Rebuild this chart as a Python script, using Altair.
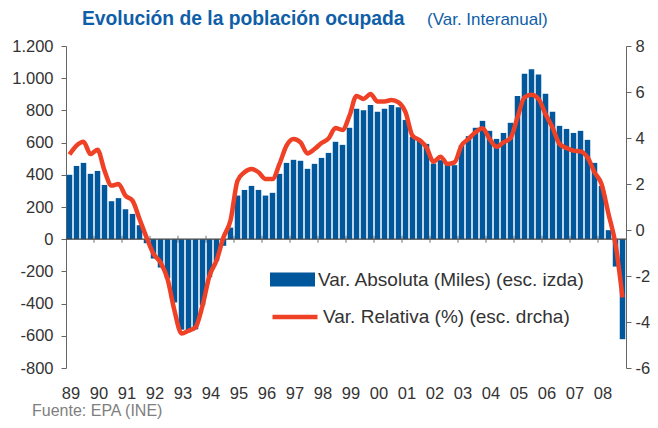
import altair as alt
import pandas as pd

FONT = "Liberation Sans"

years = [1989, 1990, 1991, 1992, 1993, 1994, 1995, 1996, 1997, 1998,
         1999, 2000, 2001, 2002, 2003, 2004, 2005, 2006, 2007, 2008]

# Variación absoluta interanual (miles de ocupados), por trimestre
var_abs = [
    400, 455, 474, 406,      # 1989
    424, 337, 236, 255,      # 1990
    186, 157, 87, -25,       # 1991
    -120, -176, -243, -393,  # 1992
    -562, -578, -560, -410,  # 1993
    -236, -135, -41, 72,     # 1994
    271, 306, 331, 306,      # 1995
    271, 288, 406, 474,      # 1996
    493, 487, 437, 468,      # 1997
    505, 536, 605, 586,      # 1998
    692, 810, 801, 834,      # 1999
    791, 810, 834, 820,      # 2000
    741, 636, 617, 592,      # 2001
    470, 491, 466, 460,      # 2002
    584, 640, 692, 735,      # 2003
    673, 623, 660, 723,      # 2004
    890, 1027, 1056, 1023,   # 2005
    903, 791, 704, 685,      # 2006
    660, 673, 617, 474,      # 2007
    331, 56, -170, -621,     # 2008
]

# Variación relativa interanual (%), por trimestre
var_rel = [
    3.28, 3.67, 3.84, 3.30,
    3.49, 2.58, 1.93, 2.00,
    1.49, 1.28, 0.48, -0.32,
    -1.04, -1.41, -2.13, -3.51,
    -4.50, -4.38, -4.23, -3.29,
    -1.99, -1.33, -0.32, 0.41,
    2.14, 2.51, 2.65, 2.51,
    2.22, 2.22, 2.87, 3.67,
    3.96, 3.81, 3.33, 3.52,
    3.78, 3.98, 4.43, 4.35,
    4.97, 5.83, 5.70, 5.91,
    5.59, 5.59, 5.65, 5.55,
    5.12, 4.10, 3.91, 3.59,
    2.97, 3.19, 2.87, 2.94,
    3.67, 3.96, 4.25, 4.42,
    3.96, 3.62, 3.81, 4.00,
    4.90, 5.77, 5.88, 5.70,
    5.04, 4.46, 3.74, 3.57,
    3.45, 3.42, 3.16, 2.51,
    2.00, 0.70, -0.61, -2.93,
]

serie_abs = "Var. Absoluta (Miles) (esc. izda)"
serie_rel = "Var. Relativa (%) (esc. drcha)"
titulo = "Evolución de la población ocupada"
subtitulo = "(Var. Interanual)"
fuente = "Fuente: EPA (INE)"

quarters = [(y, q) for y in years for q in (1, 2, 3, 4)]
df = pd.DataFrame({
    "trimestre": [f"{y}-T{q}" for y, q in quarters],
    "pos": [y + (q - 1) / 4 + 0.125 for y, q in quarters],
    "abs": var_abs,
    "rel": var_rel,
    "serie_abs": serie_abs,
    "serie_rel": serie_rel,
})

BLUE = "#00579C"
RED = "#EF4126"
TXT = "#333333"
AX = "#666666"

x_scale = alt.Scale(domain=[1989, 2009], nice=False, zero=False, padding=0)
x_axis = alt.Axis(values=years, labelExpr="slice('' + datum.value, 2)",
                  domain=False, ticks=False, tickSize=0, grid=False, title=None,
                  labelPadding=17, labelOffset=4.5, labelFlush=False,
                  labelFontSize=16.5, labelColor=TXT, labelFont=FONT)

yl_scale = alt.Scale(domain=[-800, 1200], nice=False, padding=0)
yl_axis = alt.Axis(values=list(range(-800, 1201, 200)),
                   labelExpr="replace(replace(format(datum.value, ','), ',', '.'), '\u2212', '-')",
                   grid=False, title=None, tickSize=5, domainColor=AX, tickColor=AX,
                   labelPadding=8, labelFontSize=16.5, labelColor=TXT, labelFont=FONT)

yr_scale = alt.Scale(domain=[-6, 8], nice=False, padding=0)
yr_axis = alt.Axis(orient="right", values=list(range(-6, 9, 2)),
                   labelExpr="replace(format(datum.value, 'd'), '\u2212', '-')",
                   grid=False, title=None, tickSize=5, domainColor=AX, tickColor=AX,
                   labelPadding=4, labelFontSize=16.5, labelColor=TXT, labelFont=FONT)

bars = alt.Chart(df).mark_bar(width=5.5, strokeWidth=0).encode(
    x=alt.X("pos:Q", scale=x_scale, axis=x_axis),
    y=alt.Y("abs:Q", scale=yl_scale, axis=yl_axis),
    fill=alt.Fill("serie_abs:N", scale=alt.Scale(range=[BLUE]),
                  legend=alt.Legend(title=None, orient="none", legendX=204, legendY=211,
                                    symbolType="M-1,-0.311H1V0.311H-1Z", symbolSize=2025,
                                    symbolStrokeWidth=0, labelOffset=3, labelLimit=500,
                                    labelFontSize=19, labelColor=TXT, labelFont=FONT)),
)

zero_line = alt.Chart(pd.DataFrame({"cero": [0]})).mark_rule(color="#444444", strokeWidth=1.2).encode(
    y=alt.Y("cero:Q", scale=yl_scale, axis=yl_axis),
)

tick_df = pd.DataFrame({"limite": years[1:], "cero": [0] * (len(years) - 1)})
zero_ticks = alt.Chart(tick_df).mark_tick(orient="vertical", size=7, thickness=1.2, color="#555555").encode(
    x=alt.X("limite:Q", scale=x_scale, axis=x_axis),
    y=alt.Y("cero:Q", scale=yl_scale, axis=yl_axis),
)

left = alt.layer(bars, zero_line, zero_ticks)

line = alt.Chart(df).mark_line(strokeWidth=4.5, interpolate="monotone").encode(
    x=alt.X("pos:Q", scale=x_scale, axis=x_axis),
    y=alt.Y("rel:Q", scale=yr_scale, axis=yr_axis),
    stroke=alt.Stroke("serie_rel:N", scale=alt.Scale(range=[RED]),
                      legend=alt.Legend(title=None, orient="none", legendX=204, legendY=246,
                                        symbolType="stroke", symbolSize=2025,
                                        symbolStrokeWidth=4.5, labelOffset=3, labelLimit=500,
                                        labelFontSize=19, labelColor=TXT, labelFont=FONT)),
)

t1 = alt.Chart(pd.DataFrame({"t": [titulo]})).mark_text(
    font=FONT, fontSize=19.3, fontWeight="bold", color="#0F5EA8", align="left", baseline="alphabetic"
).encode(text="t:N", x=alt.value(16), y=alt.value(-21))

t2 = alt.Chart(pd.DataFrame({"t": [subtitulo]})).mark_text(
    font=FONT, fontSize=17, color="#0F5EA8", align="left", baseline="alphabetic"
).encode(text="t:N", x=alt.value(361), y=alt.value(-21))

src = alt.Chart(pd.DataFrame({"t": [fuente]})).mark_text(
    font=FONT, fontSize=16, color="#808080", align="left", baseline="alphabetic"
).encode(text="t:N", x=alt.value(-34), y=alt.value(370))

chart = alt.layer(left, line, t1, t2, src).resolve_scale(y="independent").properties(
    width=560, height=322,
    autosize=alt.AutoSizeParams(type="none"),
    padding={"left": 58, "top": 38, "right": 24, "bottom": 52},
).configure_view(stroke=None)

chart.save("out.html", embed_options={"renderer": "svg", "actions": False})
